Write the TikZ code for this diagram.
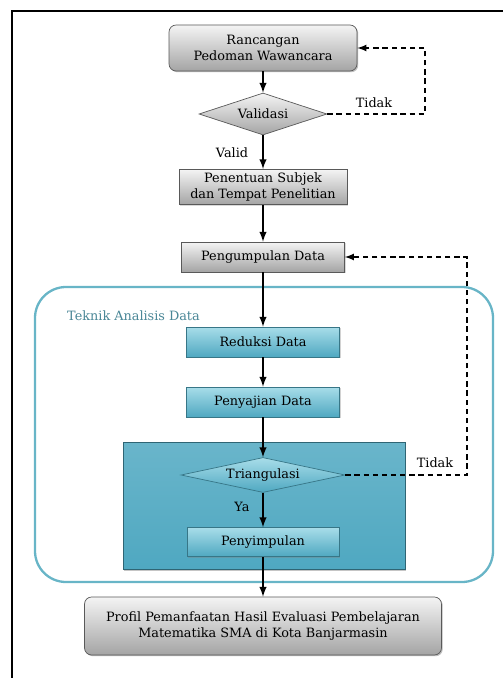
\documentclass[tikz,border=0pt]{standalone}
\usepackage{fontspec}
\setmainfont{DejaVu Serif}
\usetikzlibrary{shadows, shapes, arrows, positioning}
\definecolor{greyhi}{HTML}{F4F4F4}
\definecolor{greylo}{HTML}{A4A4A4}
\definecolor{tealhi}{HTML}{A8DDE9}
\definecolor{teallo}{HTML}{4FA8C1}
\definecolor{tealmid}{HTML}{93D2E0}
\definecolor{tealline}{HTML}{68B5C7}
\definecolor{tealtext}{HTML}{4A8797}

\begin{document}
\begin{tikzpicture}[x=0.02cm,y=-0.02cm,
    font=\rmfamily\fontsize{7.3}{9}\selectfont,
    greybox/.style={draw=gray!70!black,top color=greyhi,bottom color=greylo,
      align=center,inner sep=2pt,
      drop shadow={opacity=0.3,shadow xshift=0.7pt,shadow yshift=-0.7pt}},
    roundbox/.style={greybox,rounded corners=4pt},
    tealbox/.style={draw=teallo!70!black,top color=tealhi,bottom color=teallo,
      minimum width=3.06cm,minimum height=0.6cm,
      drop shadow={opacity=0.35,shadow xshift=0.7pt,shadow yshift=-0.7pt}},
    decision/.style={diamond,inner sep=0pt},
    flow/.style={draw=black,line width=0.9pt,-latex},
    loopback/.style={draw=black,line width=0.8pt,dash pattern=on 3pt off 2.2pt,-latex}
  ]
  \useasboundingbox (0,0) rectangle (503,678);
  % frame
  \draw[line width=1pt] (12,678) -- (12,11) -- (503,11);

  % analysis area
  \draw[tealline,line width=1.3pt,fill=white,rounded corners=0.62cm]
    (35,287) rectangle (493,582);
  \node[anchor=west,text=tealtext] (teknik) at (61,316) {Teknik Analisis Data};
  \node[minimum width=5.64cm,minimum height=2.54cm,draw=teallo!60!black,
    top color=teallo!85,middle color=tealmid,bottom color=teallo,
    drop shadow={opacity=0.45,shadow xshift=0.8pt,shadow yshift=-0.8pt}]
    (panel) at (264,506) {};

  \begin{scope}[every node/.style={greybox}]
    \node[roundbox,minimum width=3.76cm,minimum height=0.92cm] (rancangan) at (263,48)
      {Rancangan\\Pedoman Wawancara};
    \node[minimum width=3.36cm,minimum height=0.66cm] (penentuan) at (263,187)
      {Penentuan Subjek\\dan Tempat Penelitian};
    \node[minimum width=3.26cm,minimum height=0.6cm] (pengumpulan) at (263,257)
      {Pengumpulan Data};
    \node[roundbox,minimum width=7.14cm,minimum height=1.16cm] (profil) at (263,626)
      {Profil Pemanfaatan Hasil Evaluasi Pembelajaran\\Matematika SMA di Kota Banjarmasin};
  \end{scope}

  \node[decision,aspect=3,draw=gray!70!black,top color=greyhi,bottom color=greylo,
    minimum width=2.56cm,minimum height=0.84cm] (validasi) at (263,114) {Validasi};

  \begin{scope}[every node/.style={tealbox}]
    \node (reduksi) at (263,342) {Reduksi Data};
    \node (penyajian) at (263,402) {Penyajian Data};
    \node[minimum width=3.04cm,minimum height=0.58cm] (penyimpulan) at (263,542) {Penyimpulan};
  \end{scope}

  \node[decision,aspect=5,draw=teallo!70!black,top color=tealhi,bottom color=teallo,
    minimum width=3.28cm,minimum height=0.7cm] (triangulasi) at (263,475) {Triangulasi};

  % answers
  \node (valid) at (232,153) {Valid};
  \node (tidak1) at (374,103) {Tidak};
  \node (ya) at (242,507) {Ya};
  \node (tidak2) at (435,463) {Tidak};

  \begin{scope}[every edge/.style={flow}]
    \path (rancangan) edge (validasi);
    \path (validasi) edge (penentuan);
    \path (penentuan) edge (pengumpulan);
    \path (pengumpulan) edge (reduksi);
    \path (reduksi) edge (penyajian);
    \path (penyajian) edge (triangulasi);
    \path (triangulasi) edge (penyimpulan);
    \path (penyimpulan) edge (profil);
  \end{scope}

  \coordinate (back1) at (425,48);
  \coordinate (back2) at (467,257);
  \draw[loopback] (validasi.east) -| (back1) -- (rancangan.east);
  \draw[loopback] (triangulasi.east) -| (back2) -- (pengumpulan.east);
\end{tikzpicture}
\end{document}
